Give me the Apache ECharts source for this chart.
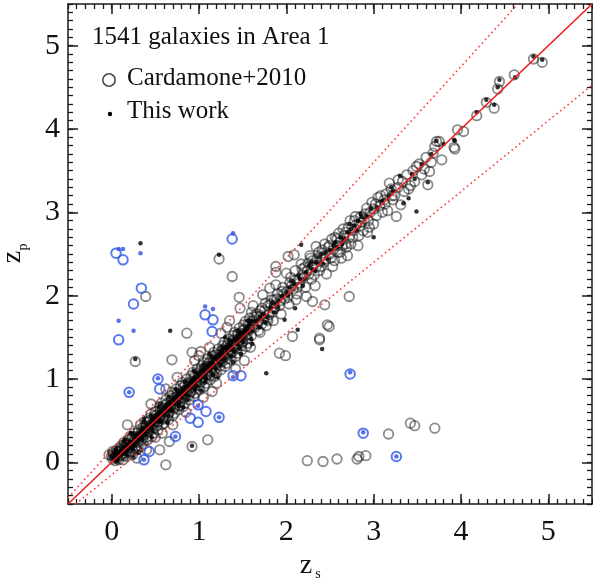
<!DOCTYPE html>
<html><head><meta charset="utf-8">
<script src="https://cdn.jsdelivr.net/npm/echarts@6/dist/echarts.min.js"></script>
<style>html,body{margin:0;padding:0;background:#fff}#c{width:593px;height:581px}</style>
</head><body><div id="c"></div>
<script>
const titleText = '1541 galaxies in Area 1';
const legendNames = ['Cardamone+2010', 'This work'];
const tickValues = [0, 1, 2, 3, 4, 5];
const tickLabels = ['0', '1', '2', '3', '4', '5'];
const axisMin = -0.5, axisMax = 5.5, minorStep = 0.1;

// Cardamone+2010 (open grey circles)
const cardamone = [
[-0.03,0.09],[0.00,0.08],[0.01,0.04],[0.02,0.11],[0.03,0.06],[0.05,0.14],[0.04,0.02],[0.06,0.09],[0.08,0.17],[0.07,0.05],[0.09,0.12],[0.11,0.20],[0.10,0.08],[0.12,0.15],[0.13,0.03],[0.14,0.24],[0.16,0.11],[0.15,0.18],[0.17,0.07],[0.19,0.27],[0.18,0.14],[0.20,0.21],[0.22,0.12],[0.21,0.31],[0.23,0.17],[0.25,0.26],[0.24,0.09],[0.26,0.35],[0.28,0.20],[0.27,0.28],[0.29,0.15],[0.31,0.39],[0.30,0.24],[0.32,0.32],[0.34,0.19],[0.33,0.45],[0.35,0.28],[0.37,0.36],[0.36,0.22],[0.38,0.49],[0.40,0.30],[0.39,0.41],[0.41,0.27],[0.43,0.53],[0.42,0.37],[0.44,0.45],[0.46,0.31],[0.45,0.58],[0.47,0.40],[0.49,0.48],[0.48,0.35],[0.50,0.61],[0.52,0.44],[0.51,0.53],[0.53,0.39],[0.55,0.67],[0.54,0.49],[0.56,0.57],[0.58,0.45],[0.57,0.71],[0.59,0.52],[0.61,0.62],[0.60,0.47],[0.62,0.75],[0.64,0.56],[0.63,0.66],[0.65,0.51],[0.67,0.80],[0.66,0.60],[0.68,0.69],[0.70,0.56],[0.69,0.84],[0.71,0.64],[0.73,0.74],[0.72,0.59],[0.74,0.88],[0.76,0.68],[0.75,0.78],[0.77,0.63],[0.79,0.92],[0.78,0.72],[0.80,0.82],[0.82,0.67],[0.81,0.96],[0.83,0.76],[0.85,0.87],[0.84,0.71],[0.86,1.00],[0.88,0.80],[0.87,0.91],[0.89,0.75],[0.91,1.04],[0.90,0.84],[0.92,0.95],[0.94,0.79],[0.93,1.08],[0.95,0.88],[0.97,0.99],[0.96,0.83],[0.98,1.12],[1.00,0.92],[0.99,1.03],[1.01,0.87],[1.03,1.16],[1.02,0.96],[1.04,1.07],[1.06,0.91],[1.05,1.20],[1.07,1.00],[1.09,1.11],[1.08,0.95],[1.10,1.24],[1.12,1.04],[1.11,1.15],[1.13,0.99],[1.15,1.28],[1.14,1.08],[1.16,1.19],[1.18,1.03],[1.17,1.32],[1.19,1.12],[1.21,1.23],[1.20,1.07],[1.22,1.36],[1.24,1.16],[1.23,1.27],[1.25,1.11],[1.27,1.40],[1.26,1.20],[1.28,1.31],[1.30,1.15],[1.29,1.44],[1.31,1.24],[1.33,1.35],[1.32,1.19],[1.34,1.48],[1.36,1.28],[1.35,1.39],[1.37,1.23],[1.39,1.52],[1.38,1.32],[1.40,1.43],[1.42,1.27],[1.41,1.56],[1.43,1.36],[1.45,1.47],[1.44,1.31],[1.46,1.61],[1.48,1.40],[1.47,1.51],[1.49,1.35],[1.51,1.65],[1.50,1.44],[1.52,1.55],[1.54,1.39],[1.53,1.69],[1.55,1.48],[1.57,1.59],[1.56,1.43],[1.58,1.73],[1.60,1.52],[1.61,1.63],[1.59,1.38],[1.60,1.80],[1.62,1.70],
[0.02,0.09],[0.05,0.07],[0.07,0.13],[0.10,0.14],[0.13,0.10],[0.15,0.22],[0.18,0.20],[0.21,0.18],[0.23,0.29],[0.26,0.24],[0.29,0.31],[0.31,0.29],[0.34,0.37],[0.37,0.33],[0.39,0.44],[0.42,0.42],[0.44,0.51],[0.47,0.46],[0.50,0.52],[0.52,0.57],[0.55,0.55],[0.58,0.63],[0.60,0.60],[0.63,0.70],[0.66,0.66],[0.68,0.75],[0.71,0.70],[0.74,0.79],[0.76,0.75],[0.79,0.84],[0.82,0.82],[0.84,0.93],[0.87,0.86],[0.90,0.95],[0.92,0.90],[0.95,1.01],[0.98,0.97],[1.01,1.08],[1.03,1.01],[1.06,1.12],[1.09,1.06],[1.11,1.19],[1.14,1.13],[1.17,1.23],[1.19,1.18],[1.22,1.29],[1.25,1.24],[1.28,1.36],[1.30,1.30],[1.33,1.42],[1.36,1.34],[1.38,1.45],[1.41,1.40],[1.44,1.54],[1.47,1.46],[1.50,1.58],[1.53,1.52],[1.56,1.66],[1.58,1.60],
[0.01,0.13],[0.04,0.09],[0.08,0.03],[0.11,0.17],[0.14,0.08],[0.17,0.23],[0.20,0.13],[0.24,0.31],[0.27,0.17],[0.30,0.36],[0.33,0.26],[0.36,0.42],[0.40,0.35],[0.43,0.49],[0.46,0.40],[0.49,0.56],[0.53,0.48],[0.56,0.63],[0.59,0.54],[0.62,0.69],[0.65,0.58],[0.69,0.77],[0.72,0.66],[0.75,0.83],[0.78,0.68],[0.82,0.90],[0.85,0.79],[0.88,0.96],[0.91,0.85],[0.94,1.03],[0.97,0.92],[1.01,1.10],[1.04,0.99],[1.07,1.15],[1.10,1.05],[1.13,1.21],[1.17,1.10],[1.20,1.29],[1.23,1.20],[1.26,1.34],[1.29,1.27],[1.32,1.40],[1.36,1.31],[1.39,1.47],[1.42,1.38],[1.45,1.54],[1.49,1.44],[1.52,1.60],[1.55,1.53],[1.58,1.66],
[0.18,0.45],[0.29,0.05],[0.45,0.70],[0.50,0.30],[0.62,0.88],[0.70,0.45],[0.75,1.02],[0.85,0.60],[0.95,1.22],[1.05,0.78],[1.12,1.38],[1.20,0.95],[1.32,1.62],[1.42,1.12],[1.35,1.70],[1.52,1.22],[1.25,1.55],[0.40,0.15],[0.58,0.35],[1.00,1.28],[1.15,0.85],
[1.62,1.88],[1.66,1.75],[1.68,1.58],[1.70,1.82],[1.73,2.01],[1.76,1.91],[1.72,1.66],[1.78,1.72],[1.81,2.09],[1.84,1.80],[1.88,2.13],[1.88,2.28],[1.88,2.35],[1.86,1.95],[1.92,1.31],[1.99,1.28],[1.95,2.05],[2.00,2.27],[2.02,2.47],[2.04,2.15],[2.07,1.51],[2.09,2.49],[2.11,1.95],[2.14,2.20],[2.18,2.32],[2.23,1.99],[2.25,2.39],[2.28,2.45],[2.30,1.93],[2.32,2.25],[2.34,2.59],[2.37,2.52],[2.38,1.47],[2.40,2.35],[2.44,2.62],[2.44,1.89],[2.47,1.65],[2.49,1.63],[2.38,1.49],[2.50,2.50],[2.52,2.68],[2.55,2.42],[2.58,2.60],[2.60,2.75],[2.62,2.52],[2.65,2.80],[2.68,2.62],[2.70,2.48],[2.72,1.99],[2.73,2.90],[2.76,2.70],[2.80,2.85],[2.82,2.60],[2.85,2.95],[2.88,2.78],[2.92,3.05],[2.95,2.82],[3.00,2.86],[3.02,3.10],[3.05,3.18],[3.10,3.00],[3.14,3.22],[3.18,3.35],[3.22,3.15],[3.26,2.95],[3.28,3.39],[3.31,3.09],[3.33,3.37],[3.40,3.28],[3.45,3.50],[3.47,3.37],[3.49,3.55],[3.55,3.45],[3.62,3.33],[3.64,3.49],[3.68,3.71],[3.70,3.79],[3.72,3.85],[3.75,3.85],[3.78,3.63],[3.92,3.78],[3.93,3.76],[3.96,3.99],[4.03,3.97],[4.18,4.16],[4.29,4.32],[4.38,4.25],[4.42,4.48],[4.44,4.57],[4.61,4.65],[4.83,4.84],[4.93,4.80],
[1.64,1.62],[1.66,1.78],[1.68,1.70],[1.70,1.56],[1.72,1.85],[1.74,1.72],[1.77,1.64],[1.79,1.88],[1.80,1.77],[1.83,1.95],[1.85,1.70],[1.87,1.86],[1.90,2.02],[1.92,1.88],[1.94,1.78],[1.96,2.10],[1.98,1.96],[2.01,2.05],[2.03,1.90],[2.05,2.22],[2.08,2.08],[2.10,2.30],[2.12,2.02],[2.15,2.15],[2.17,2.38],[2.20,2.22],[2.22,2.10],[2.24,2.30],[2.27,2.48],[2.29,2.20],[2.31,2.36],[2.33,2.12],[2.35,2.44],[2.38,2.30],[2.41,2.55],[2.43,2.40],[2.46,2.26],[2.48,2.58],[2.51,2.45],[2.53,2.35],[2.56,2.70],[2.59,2.52],[2.61,2.64],[2.63,2.45],[2.66,2.72],[2.69,2.58],[2.71,2.82],[2.74,2.62],[2.77,2.78],[2.79,2.95],[2.83,2.72],[2.86,2.88],[2.90,2.98],[2.93,2.76],[2.96,3.00],[2.98,3.12],[3.03,2.96],[3.07,3.08],[3.12,3.15],[3.16,3.02],[3.20,3.28],[3.24,3.20],[3.35,3.25],[3.38,3.45],[3.42,3.32],[3.52,3.58],[3.58,3.52],[3.60,3.66],[3.66,3.60],
[1.63,1.75],[1.67,1.66],[1.71,1.76],[1.75,1.82],[1.79,1.70],[1.82,1.90],[1.86,1.84],[1.89,1.96],[1.93,1.94],[1.97,2.02],[2.02,1.98],[2.06,2.12],[2.09,2.18],[2.13,2.10],[2.18,2.25],[2.21,2.34],[2.26,2.26],[2.30,2.42],[2.34,2.34],[2.39,2.47],[2.45,2.44],[2.49,2.60],[2.54,2.55],[2.58,2.68],[2.64,2.60],[2.68,2.76],[2.72,2.70],[2.78,2.90],[2.84,2.84],[2.89,2.92],[2.94,2.90],[3.00,3.04],[3.08,3.20],[3.13,3.10],[3.21,3.20],[3.28,3.30],
[1.23,2.44],[1.38,2.23],[0.39,1.99],[0.86,1.55],[0.27,1.21],[0.69,1.23],[0.92,1.32],[1.02,1.33],[1.46,1.98],[1.47,1.85],
[0.62,-0.03],[0.55,0.15],[0.66,0.25],[1.10,0.27],[0.92,0.19],[3.17,0.34],[3.42,0.47],[3.47,0.44],[3.70,0.41],[2.24,0.02],[2.42,0.01],[2.58,0.04],[2.81,0.04],[2.83,0.07],[2.91,0.08]
];

// This work (black dots)
const thisWork = [
[0.00,0.07],[0.02,0.05],[0.03,0.10],[0.05,0.08],[0.06,0.04],[0.08,0.12],[0.09,0.09],[0.11,0.15],[0.12,0.10],[0.14,0.13],[0.15,0.19],[0.17,0.14],[0.18,0.22],[0.20,0.17],[0.21,0.24],[0.23,0.20],[0.24,0.16],[0.26,0.29],[0.27,0.24],[0.29,0.27],[0.30,0.34],[0.32,0.28],[0.33,0.36],[0.35,0.31],[0.36,0.41],[0.38,0.36],[0.39,0.33],[0.41,0.45],[0.42,0.40],[0.44,0.47],[0.45,0.42],[0.47,0.52],[0.48,0.46],[0.50,0.55],[0.51,0.49],[0.53,0.58],[0.54,0.52],[0.56,0.49],[0.57,0.62],[0.59,0.57],[0.60,0.65],[0.62,0.60],[0.63,0.69],[0.65,0.63],[0.66,0.72],[0.68,0.66],[0.69,0.62],[0.71,0.76],[0.72,0.71],[0.74,0.79],[0.75,0.74],[0.77,0.70],[0.78,0.84],[0.80,0.78],[0.81,0.87],[0.83,0.81],[0.84,0.90],[0.86,0.85],[0.87,0.80],[0.89,0.95],[0.90,0.89],[0.92,0.98],[0.93,0.92],[0.95,1.02],[0.96,0.96],[0.98,0.91],[0.99,1.06],[1.01,1.00],[1.02,1.09],[1.04,1.03],[1.05,1.12],[1.07,1.06],[1.08,1.01],[1.10,1.16],[1.11,1.10],[1.13,1.19],[1.14,1.13],[1.16,1.23],[1.17,1.17],[1.19,1.12],[1.20,1.27],[1.22,1.21],[1.23,1.30],[1.25,1.24],[1.26,1.34],[1.28,1.28],[1.29,1.23],[1.31,1.37],[1.32,1.32],[1.34,1.41],[1.35,1.35],[1.37,1.44],[1.38,1.38],[1.40,1.33],[1.41,1.48],[1.43,1.42],[1.44,1.52],[1.46,1.46],[1.47,1.55],[1.49,1.49],[1.50,1.44],[1.52,1.58],[1.53,1.52],[1.55,1.62],[1.56,1.56],[1.58,1.66],[1.60,1.48],[1.60,1.58],[1.60,1.70],[1.61,1.42],
[0.04,0.11],[0.07,0.08],[0.10,0.13],[0.13,0.18],[0.16,0.16],[0.19,0.21],[0.22,0.25],[0.25,0.23],[0.28,0.32],[0.31,0.30],[0.34,0.39],[0.37,0.37],[0.40,0.43],[0.43,0.44],[0.46,0.50],[0.49,0.51],[0.52,0.54],[0.55,0.60],[0.58,0.59],[0.61,0.66],[0.64,0.67],[0.67,0.70],[0.70,0.74],[0.73,0.77],[0.76,0.81],[0.79,0.82],[0.82,0.86],[0.85,0.91],[0.88,0.92],[0.91,0.96],[0.94,1.00],[0.97,1.01],[1.00,1.05],[1.03,1.10],[1.06,1.10],[1.09,1.14],[1.12,1.18],[1.15,1.20],[1.18,1.24],[1.21,1.28],[1.24,1.29],[1.27,1.33],[1.30,1.38],[1.33,1.39],[1.36,1.43],[1.39,1.46],[1.42,1.47],[1.45,1.51],[1.48,1.55],[1.51,1.56],[1.54,1.60],[1.57,1.64],
[0.06,0.01],[0.17,0.09],[0.26,0.20],[0.35,0.27],[0.47,0.38],[0.56,0.48],[0.65,0.56],[0.77,0.67],[0.86,0.75],[0.95,0.87],[1.07,0.97],[1.16,1.05],[1.25,1.17],[1.37,1.27],[1.46,1.37],
[0.05,0.16],[0.15,0.27],[0.24,0.34],[0.36,0.48],[0.45,0.56],[0.54,0.66],[0.66,0.78],[0.75,0.86],[0.84,0.97],[0.96,1.08],[1.05,1.17],[1.14,1.27],[1.26,1.38],[1.35,1.47],[1.44,1.58],[1.56,1.70],
[0.14,0.25],[0.25,0.06],[0.37,0.52],[0.46,0.30],[0.55,0.70],[0.64,0.48],[0.73,0.88],[0.82,0.66],[0.94,1.10],[1.03,0.86],[1.12,1.30],[1.21,1.02],[1.30,1.50],[1.39,1.20],[0.31,0.12],[0.22,0.35],[1.48,1.30],
[1.65,1.70],[1.69,1.62],[1.73,1.78],[1.78,1.74],[1.82,1.86],[1.86,1.80],[1.91,1.94],[1.95,2.00],[1.98,1.71],[2.00,2.04],[2.04,2.10],[2.08,2.14],[2.13,1.59],[2.10,1.85],[2.16,2.20],[2.19,2.12],[2.17,2.61],[2.23,2.28],[2.26,2.36],[2.30,2.32],[2.34,2.40],[2.37,2.46],[2.41,1.36],[2.42,2.38],[2.45,2.52],[2.50,2.55],[2.54,2.60],[2.58,2.58],[2.62,2.70],[2.66,2.68],[2.70,2.76],[2.74,2.80],[2.78,2.84],[2.82,2.90],[2.87,2.94],[2.92,2.96],[3.00,2.70],[2.97,3.04],[3.04,3.06],[3.10,3.14],[3.17,3.20],[3.22,3.26],[3.30,3.44],[3.34,3.11],[3.40,3.17],[3.44,3.46],[3.49,3.01],[3.47,3.40],[3.55,3.58],[3.62,3.36],[3.66,3.70],[3.72,3.86],[3.80,3.82],[3.92,3.87],[3.93,3.86],[4.18,4.20],[4.29,4.35],[4.38,4.29],[4.42,4.50],[4.44,4.59],[4.62,4.62],[4.83,4.87],[4.93,4.83],[3.20,3.30],[2.85,2.98],
[1.70,1.74],[1.76,1.68],[1.84,1.92],[1.90,1.86],[2.02,2.00],[2.06,2.18],[2.14,2.24],[2.21,2.20],[2.28,2.40],[2.33,2.30],[2.40,2.50],[2.47,2.44],[2.56,2.64],[2.64,2.62],[2.72,2.86],[2.80,2.78],
[0.33,2.63],[1.23,2.49],[0.67,1.58],[0.27,1.24],[0.92,0.20],[1.77,1.07]
];

// Catastrophic outliers (blue)
const cardamoneBlue = [
[0.05,2.51],[0.13,2.43],[1.38,2.68],[0.34,2.09],[0.25,1.90],[0.08,1.47],[1.07,1.77],[1.16,1.71],[1.15,1.57],[0.20,0.84],[0.53,1.00],[0.55,0.88],[0.99,0.69],[1.08,0.61],[0.90,0.53],[0.99,0.48],[1.23,0.54],[0.73,0.31],[0.43,0.13],[0.37,0.03],[1.39,1.04],[1.48,1.04],[2.73,1.06],[2.88,0.35],[3.26,0.07]
];
const thisWorkBlue = [
[0.08,2.56],[0.13,2.56],[1.39,2.75],[0.33,2.51],[0.08,1.70],[0.25,1.58],[1.07,1.87],[1.16,1.84],[0.20,0.84],[0.53,1.01],[0.73,0.31],[0.37,0.03],[1.39,1.02],[2.73,1.08],[2.88,0.36],[3.26,0.07],[0.99,0.68],[1.23,0.54]
];

const oneToOne = [[-0.5,-0.5],[5.5,5.5]];
const upperBound = [[-0.5,-0.425],[4.652,5.5]];
const lowerBound = [[-0.5,-0.575],[5.5,4.525]];

const FONT = "'Liberation Serif','Times New Roman','DejaVu Serif',serif";
const AX = '#1a1a1a';

function majorAxis(pos, labels) {
  return {
    type: 'value', position: pos, min: axisMin, max: axisMax,
    axisLine: { show: true, onZero: false, lineStyle: { color: AX, width: 1.5 } },
    axisTick: { show: true, inside: true, length: 10, customValues: tickValues, lineStyle: { color: AX, width: 1.5 } },
    axisLabel: labels ? {
      show: true, customValues: tickValues, fontFamily: FONT, fontSize: 30, color: '#111',
      margin: (pos === 'bottom') ? 13 : 8,
      formatter: v => tickLabels[tickValues.indexOf(Math.round(v))]
    } : { show: false },
    splitLine: { show: false }
  };
}
function minorAxis(pos) {
  return {
    type: 'value', position: pos, min: axisMin, max: axisMax, interval: minorStep,
    axisLine: { show: false, onZero: false },
    axisTick: { show: true, inside: true, length: 5, lineStyle: { color: AX, width: 1.3 } },
    axisLabel: { show: false }, splitLine: { show: false }
  };
}

const chart = echarts.init(document.getElementById('c'), null, { renderer: 'canvas' });
chart.setOption({
  animation: false,
  backgroundColor: '#fff',
  grid: { left: 68, right: 1, top: 4, bottom: 77, containLabel: false },
  xAxis: [majorAxis('bottom', true), minorAxis('bottom'), majorAxis('top', false), minorAxis('top')],
  yAxis: [majorAxis('left', true), minorAxis('left'), majorAxis('right', false), minorAxis('right')],
  series: [
    { name: legendNames[0], type: 'scatter', data: cardamone, symbol: 'circle', symbolSize: 9.5, clip: true,
      itemStyle: { color: 'rgba(0,0,0,0)', borderColor: 'rgba(20,20,20,0.62)', borderWidth: 1.8 } },
    { name: legendNames[1], type: 'scatter', data: thisWork, symbol: 'circle', symbolSize: 4.5, clip: true,
      itemStyle: { color: '#000' } },
    { name: 'blue circles', type: 'scatter', data: cardamoneBlue, symbol: 'circle', symbolSize: 9.5, clip: true,
      itemStyle: { color: 'rgba(0,0,0,0)', borderColor: '#3058e8', borderWidth: 2 } },
    { name: 'blue dots', type: 'scatter', data: thisWorkBlue, symbol: 'circle', symbolSize: 4.5, clip: true,
      itemStyle: { color: '#2a50e0' } },
    { type: 'line', data: oneToOne, symbol: 'none', clip: true, lineStyle: { color: '#ee1c1c', width: 1.6 } },
    { type: 'line', data: upperBound, symbol: 'none', clip: true, lineStyle: { color: '#ff3a3a', width: 1.6, type: [1.6, 3.2] } },
    { type: 'line', data: lowerBound, symbol: 'none', clip: true, lineStyle: { color: '#ff3a3a', width: 1.6, type: [1.6, 3.2] } }
  ],
  graphic: [
    { type: 'text', left: 92, top: 25, style: { text: titleText, fontFamily: FONT, fontSize: 25, fill: '#111' } },
    { type: 'circle', shape: { cx: 109, cy: 80, r: 6.2 }, style: { fill: 'none', stroke: '#4a4a4a', lineWidth: 1.6 } },
    { type: 'text', left: 127, top: 66, style: { text: legendNames[0], fontFamily: FONT, fontSize: 25, fill: '#111' } },
    { type: 'circle', shape: { cx: 110, cy: 114, r: 2.2 }, style: { fill: '#000' } },
    { type: 'text', left: 127, top: 99, style: { text: legendNames[1], fontFamily: FONT, fontSize: 25, fill: '#111' } },
    { type: 'text', x: 306, y: 566, style: { text: 'z', fontFamily: FONT, fontSize: 28, fill: '#111', align: 'center', verticalAlign: 'middle' } },
    { type: 'text', x: 318, y: 574, style: { text: 's', fontFamily: FONT, fontSize: 14, fill: '#111', align: 'center', verticalAlign: 'middle' } },
    { type: 'group', x: 13, y: 257, rotation: Math.PI / 2, children: [
      { type: 'text', x: 0, y: 0, style: { text: 'z', fontFamily: FONT, fontSize: 28, fill: '#111', align: 'center', verticalAlign: 'middle' } },
      { type: 'text', x: 10, y: 10, style: { text: 'p', fontFamily: FONT, fontSize: 14, fill: '#111', align: 'center', verticalAlign: 'middle' } }
    ] }
  ]
});
</script></body></html>
